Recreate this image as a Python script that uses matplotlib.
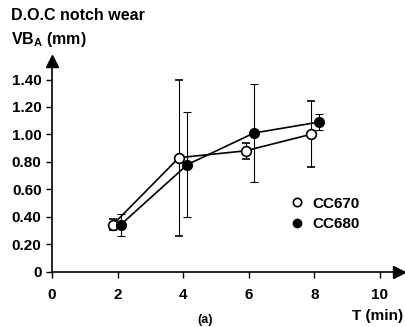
import matplotlib.pyplot as plt
from matplotlib.lines import Line2D

plt.rcParams['font.family'] = ['Liberation Sans', 'DejaVu Sans']
plt.rcParams['font.weight'] = 'bold'

# wear data
t_cc670 = [1.85, 3.87, 5.9, 7.89]
vb_cc670 = [0.34, 0.83, 0.88, 1.00]
err_cc670 = [0.04, 0.57, 0.06, 0.24]

t_cc680 = [2.09, 4.13, 6.16, 8.15]
vb_cc680 = [0.34, 0.78, 1.01, 1.09]
err_cc680 = [0.08, 0.38, 0.36, 0.06]

xticks = [0, 2, 4, 6, 8, 10]
yticks = [0, 0.2, 0.4, 0.6, 0.8, 1.0, 1.2, 1.4]
ytick_labels = ['0', '0.20', '0.40', '0.60', '0.80', '1.00', '1.20', '1.40']

fig = plt.figure(figsize=(4.06, 3.27), dpi=100)
ax = fig.add_axes([52 / 406, 55.5 / 327, 347 / 406, 210.5 / 327])

ax.errorbar(t_cc670, vb_cc670, yerr=err_cc670, color='black', lw=1.2,
            elinewidth=0.8, capsize=3, capthick=0.8, marker='o', ms=7,
            mfc='white', mec='black', mew=1.2, zorder=3)
ax.errorbar(t_cc680, vb_cc680, yerr=err_cc680, color='black', lw=1.2,
            elinewidth=0.8, capsize=3, capthick=0.8, marker='o', ms=7,
            mfc='black', mec='black', zorder=3)

ax.set_xlim(0, 10.58)
ax.set_ylim(0, 1.535)
ax.set_xticks(xticks)
ax.set_yticks(yticks)
ax.set_yticklabels(ytick_labels)
ax.tick_params(labelsize=11, direction='out', length=4, width=1)
ax.tick_params(axis='x', pad=8)
ax.spines['top'].set_visible(False)
ax.spines['right'].set_visible(False)
ax.spines['left'].set_linewidth(1.2)
ax.spines['bottom'].set_linewidth(1.2)

# axis arrows
ax.plot(1, 0, '>k', ms=9, transform=ax.transAxes, clip_on=False)
ax.plot(0, 1, '^k', ms=9, transform=ax.transAxes, clip_on=False)

handles = [Line2D([], [], ls='none', marker='o', ms=6, mfc='white', mec='black', mew=1.2),
           Line2D([], [], ls='none', marker='o', ms=6, mfc='black', mec='black')]
ax.legend(handles, ['CC670', 'CC680'], frameon=False, fontsize=11,
          loc='upper left', bbox_to_anchor=(0.65, 0.42), handlelength=0.8,
          handletextpad=0.6, labelspacing=0.4)

fig.text(11 / 406, 1 - 20 / 327, 'D.O.C notch wear', fontsize=11.5)
fig.text(11 / 406, 1 - 44 / 327, r'VB$_\mathregular{A}$ (mm)', fontsize=11.5)
fig.text(403 / 406, 1 - 320 / 327, 'T (min)', fontsize=11, ha='right')
fig.text(205 / 406, 1 / 327, '(a)', fontsize=9, ha='center', va='bottom')

fig.savefig('out.png', dpi=100)
